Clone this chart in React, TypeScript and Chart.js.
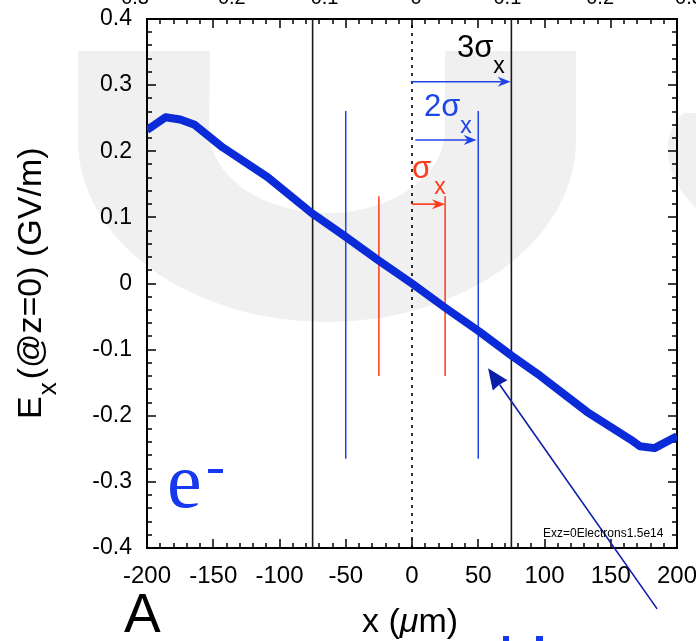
import React, { useEffect, useRef } from "react";
import { Chart, registerables } from "chart.js";

Chart.register(...registerables);

// ---- data ----
const xPositions = [-200, -186, -175, -164, -143, -109, -76, -51, -26, 0, 26, 51, 75, 97, 132, 165, 172, 183, 200];
const fieldValues = [0.232, 0.2515, 0.248, 0.24, 0.206, 0.161, 0.107, 0.072, 0.036, 0.0, -0.038, -0.073, -0.109, -0.14, -0.194, -0.236, -0.246, -0.249, -0.231];

const blackLineX = [-75, 75];
const zeroLineX = [0];
const blueLineX = [-50, 50];
const blueLineRange = [-0.265, 0.261];
const redLineX = [-25, 25];
const redLineRange = [-0.14, 0.132];

const sigmaArrowY = [0.305, 0.217, 0.12];
const sigmaArrowStart = [0, 2.5, 0];
const sigmaArrowEnd = [74.5, 48.8, 24.9];

const pointerFrom = [185, -0.492];
const pointerTo = [57.4, -0.128];

const topTickLabels = ["0.3", "0.2", "0.1", "0", "0.1", "0.2", "0.3"];
const topTickValues = [-209, -136, -66, 3, 72, 142, 209];

const xMin = -200, xMax = 200, yMin = -0.4, yMax = 0.4;

const SANS = "'Liberation Sans', Arial, Helvetica, sans-serif";
const SERIF = "'Liberation Serif', 'Times New Roman', serif";
const CURVE = "#0b2ad8";
const BLUE = "#1f44e8";
const RED = "#ff3a1a";

function vline(x: number, y0: number, y1: number, color: string, width: number, dash?: number[]) {
  return {
    data: [{ x, y: y0 }, { x, y: y1 }],
    showLine: true,
    borderColor: color,
    borderWidth: width,
    borderDash: dash || [],
    pointRadius: 0,
    clip: 0,
  };
}

function drawArrow(ctx: CanvasRenderingContext2D, x1: number, y1: number, x2: number, y2: number,
  color: string, lw: number, headLen: number, headW: number, notch: number) {
  const dx = x2 - x1, dy = y2 - y1;
  const len = Math.hypot(dx, dy);
  const ux = dx / len, uy = dy / len;
  const px = -uy, py = ux;
  ctx.save();
  ctx.setLineDash([]);
  ctx.strokeStyle = color;
  ctx.fillStyle = color;
  ctx.lineWidth = lw;
  ctx.beginPath();
  ctx.moveTo(x1, y1);
  ctx.lineTo(x2 - ux * (headLen - notch), y2 - uy * (headLen - notch));
  ctx.stroke();
  ctx.beginPath();
  ctx.moveTo(x2, y2);
  ctx.lineTo(x2 - ux * headLen + px * headW, y2 - uy * headLen + py * headW);
  ctx.lineTo(x2 - ux * (headLen - notch), y2 - uy * (headLen - notch));
  ctx.lineTo(x2 - ux * headLen - px * headW, y2 - uy * headLen - py * headW);
  ctx.closePath();
  ctx.fill();
  ctx.restore();
}

function textWithSub(ctx: CanvasRenderingContext2D, main: string, sub: string, x: number, y: number,
  color: string, size: number, subSize: number, subDy: number, gap = 0) {
  ctx.fillStyle = color;
  ctx.font = `${size}px ${SANS}`;
  ctx.textAlign = "left";
  ctx.textBaseline = "alphabetic";
  ctx.fillText(main, x, y);
  const w = ctx.measureText(main).width;
  ctx.font = `${subSize}px ${SANS}`;
  ctx.fillText(sub, x + w + gap, y + subDy);
}

function drawTicks(chart: any) {
  const ctx: CanvasRenderingContext2D = chart.ctx;
  const area = chart.chartArea;
  const left = Math.round(area.left), right = Math.round(area.right);
  const top = Math.round(area.top), bottom = Math.round(area.bottom);
  const xs = chart.scales.x, ys = chart.scales.y;
  ctx.save();
  ctx.fillStyle = "#000";
  for (let k = 0; k <= 40; k++) {
    const p = Math.round(xs.getPixelForValue(xMin + k * 10));
    const len = k % 5 === 0 ? 9 : 5;
    ctx.fillRect(p - 0.75, bottom - len, 1.5, len);
    ctx.fillRect(p - 0.75, top, 1.5, len);
  }
  for (let i = -20; i <= 20; i++) {
    const p = Math.round(ys.getPixelForValue(i * 0.02));
    const len = i % 5 === 0 ? 9 : 5;
    ctx.fillRect(left, p - 0.75, len, 1.5);
    ctx.fillRect(right - len, p - 0.75, len, 1.5);
  }
  ctx.restore();
}

const decor = {
  id: "decor",
  beforeDraw(chart: any) {
    const ctx: CanvasRenderingContext2D = chart.ctx;
    ctx.save();
    ctx.fillStyle = "#fff";
    ctx.fillRect(0, 0, chart.width, chart.height);
    ctx.fillStyle = "rgb(240,240,240)";
    ctx.beginPath();
    ctx.moveTo(78, 51);
    ctx.lineTo(78, 140);
    ctx.ellipse(327, 140, 249, 182, 0, Math.PI, 0, true);
    ctx.lineTo(576, 51);
    ctx.lineTo(445, 51);
    ctx.lineTo(445, 130);
    ctx.ellipse(327, 130, 118, 83, 0, 0, Math.PI, false);
    ctx.lineTo(210, 51);
    ctx.closePath();
    ctx.fill();
    ctx.beginPath();
    ctx.moveTo(696, 113);
    ctx.lineTo(684, 113);
    ctx.quadraticCurveTo(666, 128, 668, 155);
    ctx.quadraticCurveTo(672, 185, 696, 208);
    ctx.closePath();
    ctx.fill();
    ctx.restore();
  },
  beforeDatasetsDraw(chart: any) {
    const ctx: CanvasRenderingContext2D = chart.ctx;
    const { left, right, top, bottom } = chart.chartArea;
    ctx.save();
    ctx.setLineDash([]);
    ctx.strokeStyle = "#000";
    ctx.lineWidth = 2;
    ctx.strokeRect(left, top, right - left, bottom - top);
    ctx.restore();
    drawTicks(chart);
  },
  afterDatasetsDraw(chart: any) {
    const ctx: CanvasRenderingContext2D = chart.ctx;
    const xs = chart.scales.x, ys = chart.scales.y;
    const colors = [BLUE, BLUE, RED];
    for (let i = 0; i < sigmaArrowY.length; i++) {
      const y = ys.getPixelForValue(sigmaArrowY[i]);
      drawArrow(ctx, xs.getPixelForValue(sigmaArrowStart[i]), y, xs.getPixelForValue(sigmaArrowEnd[i]), y,
        colors[i], 1.6, 13, 5, 4);
    }
    drawArrow(ctx, xs.getPixelForValue(pointerFrom[0]), ys.getPixelForValue(pointerFrom[1]),
      xs.getPixelForValue(pointerTo[0]), ys.getPixelForValue(pointerTo[1]), "#0a1ea8", 1.6, 21, 9, 1);

    ctx.save();
    textWithSub(ctx, "3σ", "x", 457, 57, "#000", 31, 23, 16, 0);
    textWithSub(ctx, "2σ", "x", 424, 116, BLUE, 31, 23, 17, 0);
    textWithSub(ctx, "σ", "x", 412, 178, RED, 31, 23, 16, 3);
    // e-
    ctx.fillStyle = "#1638f0";
    ctx.font = `78px ${SERIF}`;
    ctx.textAlign = "left";
    ctx.fillText("e", 167, 507);
    ctx.fillRect(208, 469, 15, 4);
    // small label
    ctx.fillStyle = "#000";
    ctx.font = `12px ${SANS}`;
    ctx.fillText("Exz=0Electrons1.5e14", 543, 537);
    ctx.restore();
  },
  afterDraw(chart: any) {
    const ctx: CanvasRenderingContext2D = chart.ctx;
    const xs = chart.scales.x;
    ctx.save();
    ctx.fillStyle = "#000";
    ctx.textBaseline = "alphabetic";
    // partially visible top labels
    ctx.font = `20px ${SANS}`;
    ctx.textAlign = "center";
    for (let i = 0; i < topTickLabels.length; i++) {
      ctx.fillText(topTickLabels[i], xs.getPixelForValue(topTickValues[i]), 3.5);
    }
    // A
    ctx.textAlign = "left";
    ctx.font = `55px ${SANS}`;
    ctx.fillText("A", 124, 632);
    // x title
    ctx.font = `34px ${SANS}`;
    const a = "x (", b = "μ", c = "m)";
    const wa = ctx.measureText(a).width;
    ctx.font = `italic 34px ${SANS}`;
    const wb = ctx.measureText(b).width;
    ctx.font = `34px ${SANS}`;
    const wc = ctx.measureText(c).width;
    const x0 = 410 - (wa + wb + wc) / 2;
    ctx.fillText(a, x0, 632);
    ctx.font = `italic 34px ${SANS}`;
    ctx.fillText(b, x0 + wa, 632);
    ctx.font = `34px ${SANS}`;
    ctx.fillText(c, x0 + wa + wb, 632);
    // y title
    ctx.translate(41, 419);
    ctx.rotate(-Math.PI / 2);
    ctx.font = `34px ${SANS}`;
    ctx.fillText("E", 0, 0);
    const we = ctx.measureText("E").width;
    ctx.font = `26px ${SANS}`;
    ctx.fillText("x", we + 1, 15);
    const wx = ctx.measureText("x").width;
    ctx.font = `34px ${SANS}`;
    ctx.fillText("(@z=0) (GV/m)", we + wx + 4, 0);
    ctx.restore();
    // cropped blue marks at bottom
    ctx.save();
    ctx.fillStyle = "#1638f0";
    ctx.fillRect(503, 636, 6, 5);
    ctx.fillRect(536, 636, 7, 5);
    ctx.restore();
  },
};

export default function App() {
  const ref = useRef<HTMLCanvasElement>(null);
  useEffect(() => {
    const datasets: any[] = [
      {
        data: xPositions.map((x, i) => ({ x, y: fieldValues[i] })),
        showLine: true,
        borderColor: CURVE,
        borderWidth: 8,
        borderJoinStyle: "round",
        pointRadius: 0,
        tension: 0,
      },
      ...blackLineX.map((x) => vline(x, yMin, yMax, "#1a1a1a", 1.6)),
      ...zeroLineX.map((x) => vline(x, yMin, yMax, "#000", 1.6, [3, 5])),
      ...blueLineX.map((x) => vline(x, blueLineRange[0], blueLineRange[1], BLUE, 1.5)),
      ...redLineX.map((x) => vline(x, redLineRange[0], redLineRange[1], RED, 1.5)),
    ];
    const chart = new Chart(ref.current!, {
      type: "scatter",
      data: { datasets },
      options: {
        animation: false,
        responsive: false,
        devicePixelRatio: 1,
        layout: { padding: { left: 0, top: 19, right: 19, bottom: 0 } },
        plugins: { legend: { display: false }, tooltip: { enabled: false } },
        scales: {
          x: {
            type: "linear",
            min: xMin,
            max: xMax,
            grid: { display: false, drawTicks: false },
            border: { display: false },
            ticks: {
              stepSize: 50,
              color: "#000",
              padding: 14,
              maxRotation: 0,
              autoSkip: false,
              font: { family: SANS, size: 24 },
            },
            afterFit: (s: any) => {
              s.height = 93;
              s.paddingLeft = 0; s.paddingRight = 0; s.paddingTop = 0; s.paddingBottom = 0;
            },
          },
          y: {
            type: "linear",
            min: yMin,
            max: yMax,
            grid: { display: false, drawTicks: false },
            border: { display: false },
            ticks: {
              stepSize: 0.1,
              color: "#000",
              padding: 15,
              autoSkip: false,
              font: { family: SANS, size: 23 },
              callback: (v: any) => String(Number(Number(v).toFixed(1))),
            },
            afterFit: (s: any) => {
              s.width = 147;
              s.paddingLeft = 0; s.paddingRight = 0; s.paddingTop = 0; s.paddingBottom = 0;
            },
          },
        },
      },
      plugins: [decor],
    } as any);
    return () => chart.destroy();
  }, []);
  return (
    <div style={{ position: "fixed", left: 0, top: 0, width: 696, height: 641, background: "#fff" }}>
      <canvas ref={ref} width={696} height={641} style={{ display: "block", width: 696, height: 641 }} />
    </div>
  );
}
